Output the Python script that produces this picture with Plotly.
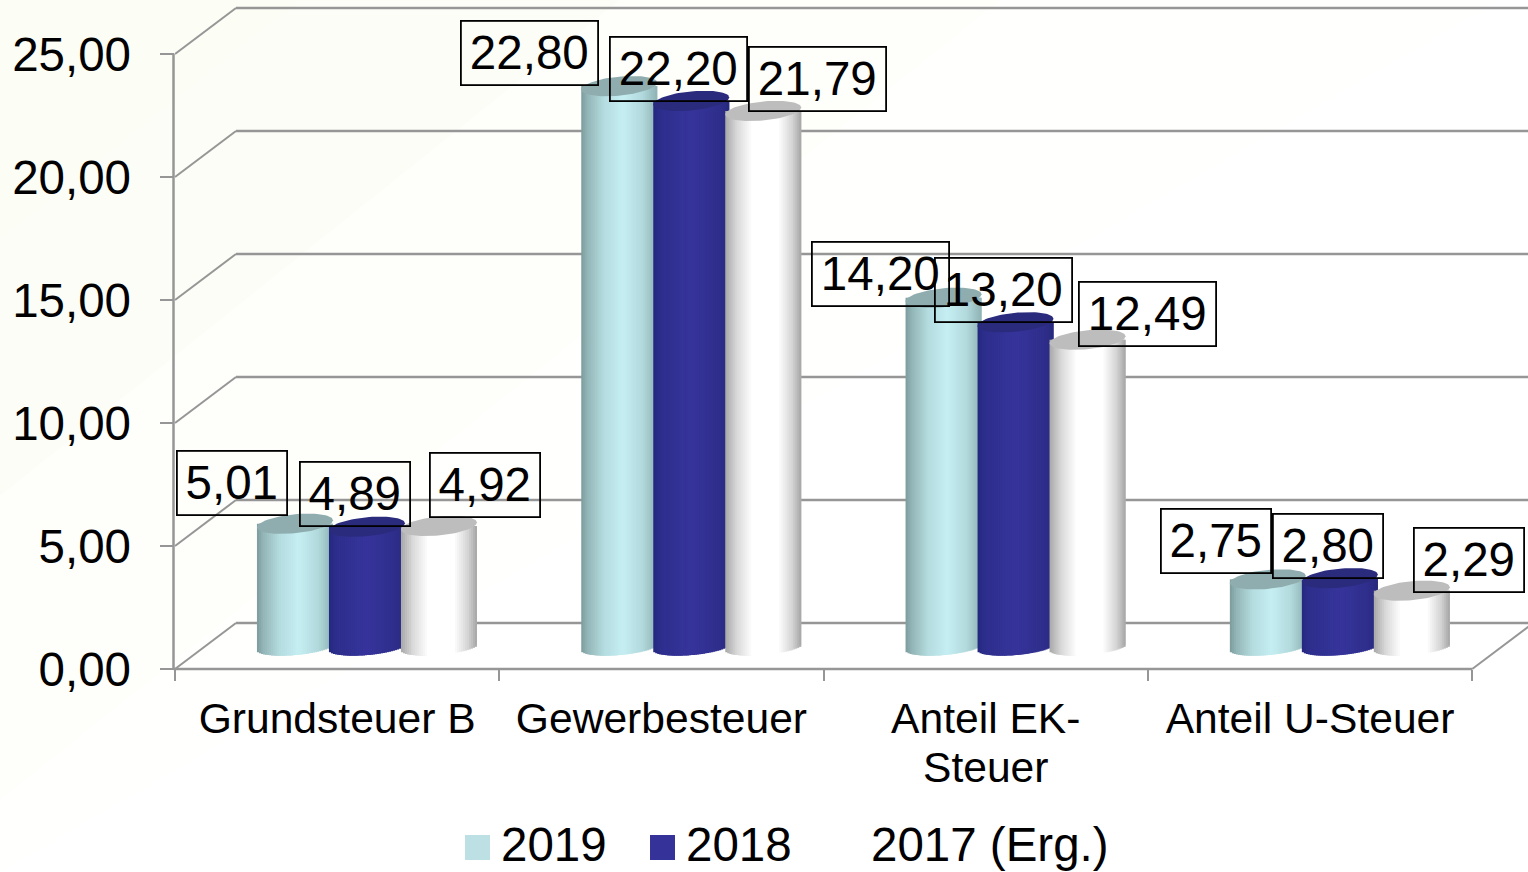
import numpy as np
import plotly.graph_objects as go

categories = ["Grundsteuer B", "Gewerbesteuer", "Anteil EK-<br>Steuer", "Anteil U-Steuer"]
series_names = ["2019", "2018", "2017 (Erg.)"]
values_2019 = [5.01, 22.80, 14.20, 2.75]
values_2018 = [4.89, 22.20, 13.20, 2.80]
values_2017 = [4.92, 21.79, 12.49, 2.29]
y_ticks = [0, 5, 10, 15, 20, 25]
y_labels = ["0,00", "5,00", "10,00", "15,00", "20,00", "25,00"]
data_labels_2019 = ["5,01", "22,80", "14,20", "2,75"]
data_labels_2018 = ["4,89", "22,20", "13,20", "2,80"]
data_labels_2017 = ["4,92", "21,79", "12,49", "2,29"]

# label offsets from the cap centre, in px (dx, up)
off_2019 = [(-62.5, 39.3), (-89.3, 32.6), (-62.6, 22.7), (-51.4, 37.4)]
off_2018 = [(-11.5, 31.7), (-12.3, 30.4), (-11.6, 30.8), (-11.4, 31.6)]
off_2017 = [(46.5, 39.5), (54.7, 30.5), (60.4, 25.2), (57.6, 29.2)]

W, H = 1528, 872
X0, Y0 = 175.0, 669.0          # px of origin
PXX, PXY = 324.3, 24.6         # px per category, px per unit
DEPTH_X, DEPTH_Y = 61 / PXX, 46 / PXY
BAR_LIFT = 22 / PXY            # cylinders stand half-way into the floor
A = 38 / PXX                   # cylinder radius
PITCH = 72 / PXX               # distance between cylinders
RY = 9.5 / PXY
RY_FOOT = 8 / PXY
TILT = 3.5 / PXY
STRIPE = 2 / PXX
GRID = "#969696"
BAR_NUDGE = -0.7 / PXX

stops = {
    0: [(0, "#7d9b9d"), (.08, "#93b5b7"), (.3, "#b5dde0"), (.55, "#c6eff3"), (.8, "#b3dadd"), (1, "#8fb3b5")],
    1: [(0, "#242a80"), (.08, "#2d2e8c"), (.5, "#37359c"), (.9, "#2e2e8a"), (1, "#272a7c")],
    2: [(0, "#a8a8a8"), (.15, "#d8d8d8"), (.35, "#ffffff"), (.7, "#ffffff"), (.88, "#d5d5d5"), (1, "#a5a5a5")],
}
cap_colors = ["#8fadaf", "#2a2b7c", "#bdbdbd"]
swatches = ["#bce0e3", "#35339a", "#ffffff"]


def shade(s, t):
    pts = stops[s]
    xs = [p[0] for p in pts]
    rgb = [[int(p[1][i:i + 2], 16) for p in pts] for i in (1, 3, 5)]
    return "rgb(%d,%d,%d)" % tuple(np.interp(t, xs, c) for c in rgb)


fig = go.Figure()
all_values = [values_2019, values_2018, values_2017]
n_stripes = int(round(2 * A / STRIPE))
step = 2 * A / n_stripes
centers = []
for s, vals in enumerate(all_values):
    xs, ys, bases, cols, widths = [], [], [], [], []
    cx_s = []
    for i, v in enumerate(vals):
        cx = i + 0.5 + DEPTH_X / 2 + (s - 1) * PITCH + BAR_NUDGE
        cx_s.append(cx)
        for k in range(n_stripes):
            u = -1 + (k + .5) * 2 / n_stripes
            # every stripe but the last reaches well under its right neighbour, so no seams show
            w = step * (2 if k < n_stripes - 1 else 1)
            left = cx + (u * A) - step / 2
            xs.append(left + w / 2)
            foot = BAR_LIFT - RY_FOOT * np.sqrt(1 - u * u) + TILT * u
            bases.append(foot)
            ys.append(v + BAR_LIFT - foot)
            cols.append(shade(s, (u + 1) / 2))
            widths.append(w)
    centers.append(cx_s)
    fig.add_trace(go.Bar(x=xs, y=ys, base=bases, width=widths, name=series_names[s],
                         marker=dict(color=cols, line=dict(width=0)), hoverinfo="skip",
                         showlegend=False))

th = np.linspace(0, 2 * np.pi, 80)
for s, vals in enumerate(all_values):
    for i, v in enumerate(vals):
        cx = centers[s][i]
        fig.add_trace(go.Scatter(x=cx + A * np.cos(th),
                                 y=v + BAR_LIFT + RY * np.sin(th) + TILT * np.cos(th),
                                 mode="lines", fill="toself", fillcolor=cap_colors[s],
                                 line=dict(width=0), hoverinfo="skip", showlegend=False))

shapes = []
# background: faint cream corner
for R, c in [(1500, "#fffffd"), (1000, "#fefefb"), (620, "#fdfdf8"), (300, "#fcfdf5")]:
    shapes.append(dict(type="path", xref="paper", yref="paper", layer="below", line=dict(width=0), fillcolor=c,
                       path=f"M0,1 L{R / W},1 L0,{1 - min(R * .8, H) / H} Z"))
gl = dict(color=GRID, width=2.5)
nc = len(categories)
for t in y_ticks:
    shapes.append(dict(type="line", x0=DEPTH_X, x1=nc + DEPTH_X, y0=t + DEPTH_Y, y1=t + DEPTH_Y,
                       xref="x", yref="y", layer="below", line=gl))
    shapes.append(dict(type="line", x0=0, x1=DEPTH_X, y0=t, y1=t + DEPTH_Y,
                       xref="x", yref="y", layer="below", line=dict(color=GRID, width=2)))
shapes.append(dict(type="line", x0=nc, x1=nc + DEPTH_X, y0=0, y1=DEPTH_Y, xref="x", yref="y", layer="below",
                   line=dict(color=GRID, width=2)))
shapes.append(dict(type="line", x0=-1.5 / PXX, x1=nc, y0=0, y1=0, xref="x", yref="y", layer="below", line=gl))
shapes.append(dict(type="line", x0=-1.5 / PXX, x1=-1.5 / PXX, y0=0, y1=y_ticks[-1], xref="x", yref="y", layer="below", line=gl))

# legend
legend_swatch_px = [465, 650, 836]
legend_text_px = [499, 684, 869]
annotations = []
for s, name in enumerate(series_names):
    shapes.append(dict(type="rect", xref="paper", yref="paper", line=dict(width=0), fillcolor=swatches[s], layer="above",
                       x0=legend_swatch_px[s] / W, x1=(legend_swatch_px[s] + 25) / W,
                       y0=1 - 860 / H, y1=1 - 835 / H))
    annotations.append(dict(text=name, xref="paper", yref="paper", x=legend_text_px[s] / W, y=1 - 844 / H,
                            xanchor="left", yanchor="middle", showarrow=False,
                            font=dict(size=47.5, color="black", family="Liberation Sans, Arial")))

for s, (labels, offs, vals) in enumerate(zip([data_labels_2019, data_labels_2018, data_labels_2017],
                                             [off_2019, off_2018, off_2017], all_values)):
    for i, lab in enumerate(labels):
        annotations.append(dict(text=lab, x=centers[s][i], y=vals[i] + DEPTH_Y / 2, xref="x", yref="y",
                                xshift=offs[i][0] - 0.8, yshift=offs[i][1], showarrow=False,
                                xanchor="center", yanchor="middle",
                                width=133 if len(lab) == 5 else 106, height=60, borderpad=1,
                                bordercolor="black", borderwidth=1.8, bgcolor="rgba(0,0,0,0)",
                                font=dict(size=47.5, color="black", family="Liberation Sans, Arial")))

tick_font = 37.7
tick_text = ["<br>".join(f'<span style="font-size:42.6px">{part}</span>' for part in c.split("<br>"))
             for c in categories]

fig.update_layout(
    width=W, height=H, autosize=False, margin=dict(l=0, r=0, t=0, b=0),
    paper_bgcolor="white", plot_bgcolor="rgba(0,0,0,0)", barmode="overlay", showlegend=False,
    font=dict(family="Liberation Sans, Arial", color="black"),
    shapes=shapes, annotations=annotations,
    xaxis=dict(range=[-X0 / PXX, (W - X0) / PXX], domain=[0, 1], anchor="free", position=1 - Y0 / H,
               tickmode="array", tickvals=[i + .5 for i in range(nc)], ticktext=tick_text,
               tickfont=dict(size=tick_font, color="black"), tickangle=0,
               ticks="outside", ticklen=0, ticklabelstandoff=18,
               showgrid=False, zeroline=False, showline=False,
               minor=dict(tickmode="array", tickvals=list(range(nc + 1)), ticks="outside", ticklen=11,
                          tickcolor=GRID, tickwidth=2, showgrid=False)),
    yaxis=dict(range=[(Y0 - H) / PXY, Y0 / PXY], domain=[0, 1], anchor="free", position=173.5 / W,
               tickmode="array", tickvals=y_ticks, ticktext=y_labels,
               tickfont=dict(size=47.5, color="black"), ticks="outside", ticklen=14,
               tickcolor=GRID, tickwidth=2, ticklabelstandoff=19,
               showgrid=False, zeroline=False, showline=False),
)
fig.write_html("out.html", post_script="document.body.style.margin='0';document.body.style.overflow='hidden';",
               config=dict(displayModeBar=False))
